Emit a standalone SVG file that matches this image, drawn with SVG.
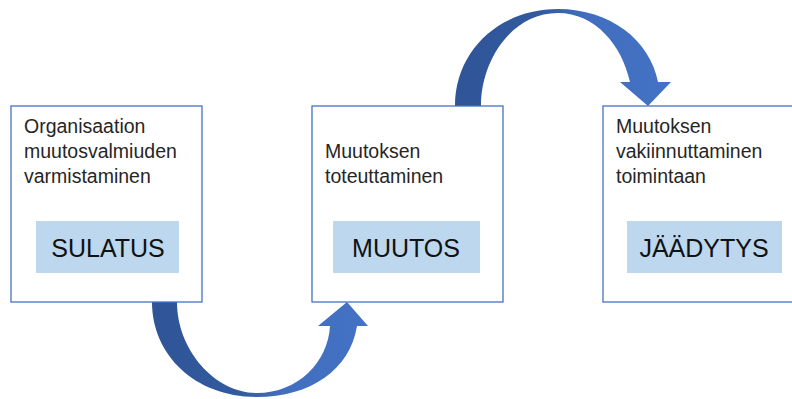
<svg xmlns="http://www.w3.org/2000/svg" width="792" height="399" viewBox="0 0 792 399">
<style>
.box{fill:#fff;stroke:#4472C4;stroke-width:1.3}
.lab{fill:#BDD7EE}
.t{font-family:"Liberation Sans",Arial,sans-serif;font-size:19.5px;fill:#262626}
.big{font-family:"Liberation Sans",Arial,sans-serif;font-size:25px;fill:#111;text-anchor:middle}
</style>
<defs>
<linearGradient id="g1" x1="0" y1="0" x2="1" y2="0">
<stop offset="0" stop-color="#2F5597"/>
<stop offset="0.4" stop-color="#335A9F"/>
<stop offset="0.6" stop-color="#416EBE"/>
<stop offset="1" stop-color="#4472C4"/>
</linearGradient>
</defs>
<rect width="792" height="399" fill="#fff"/>
<g id="connectors">
<path fill="url(#g1)" d="M152,302 C152,355 195,397 257,397 C310,397 350,370 357,326 L368,326 L347,302 L318,326 L330,326 C328,362 298,393 257,393 C215,393 177,350 177,302 Z"/>
<path fill="url(#g1)" d="M455,106 C455,50 500,9 558,9 C610,9 650,40 658,82 L671,82 L648,106 L620,82 L630,82 C622,45 595,13 558,13 C512,13 481,60 481,106 Z"/>
</g>
<g id="sulatus">
<rect class="box" x="11" y="106" width="191" height="196"/>
<text class="t" x="24" y="133">Organisaation</text>
<text class="t" x="24" y="158">muutosvalmiuden</text>
<text class="t" x="24" y="183">varmistaminen</text>
<rect class="lab" x="36" y="221" width="143" height="52"/>
<text class="big" x="108" y="257">SULATUS</text>
</g>
<g id="muutos">
<rect class="box" x="312" y="106" width="191" height="196"/>
<text class="t" x="325" y="158">Muutoksen</text>
<text class="t" x="325" y="183">toteuttaminen</text>
<rect class="lab" x="333" y="221" width="147" height="52"/>
<text class="big" x="406" y="257">MUUTOS</text>
</g>
<g id="jaadytys">
<rect class="box" x="603" y="106" width="191" height="196"/>
<text class="t" x="616" y="133">Muutoksen</text>
<text class="t" x="616" y="158">vakiinnuttaminen</text>
<text class="t" x="616" y="183">toimintaan</text>
<rect class="lab" x="627" y="221" width="155" height="52"/>
<text class="big" x="704" y="257">JÄÄDYTYS</text>
</g>
</svg>
